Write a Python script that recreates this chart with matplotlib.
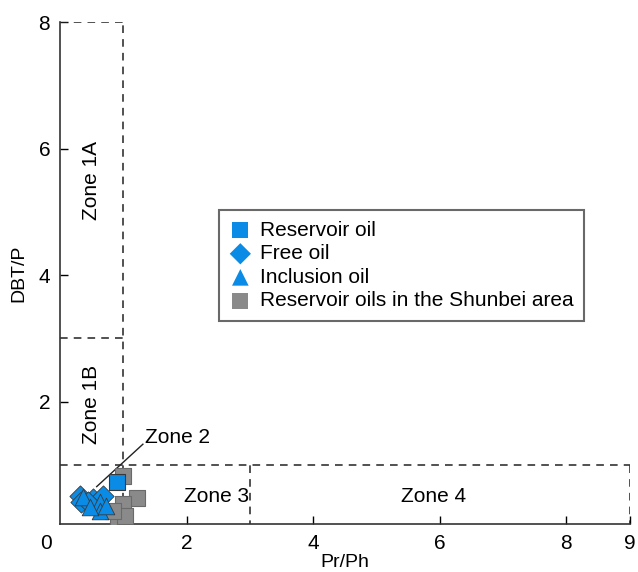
import numpy as np
import matplotlib.pyplot as plt

plt.rcParams['font.family'] = ['Liberation Sans', 'DejaVu Sans']

"""Dados lidos do gráfico"""
# Reservoir oil
res_x = [0.90]
res_y = [0.73]
# Free oil
free_x = [0.32, 0.34, 0.52, 0.68, 0.45]
free_y = [0.51, 0.41, 0.46, 0.51, 0.42]
# Inclusion oil
inc_x = [0.37, 0.63, 0.63, 0.47, 0.72]
inc_y = [0.49, 0.41, 0.27, 0.33, 0.36]
# Reservoir oils in the Shunbei area
shb_x = [1.00, 1.22, 1.00, 0.92, 1.03, 0.84]
shb_y = [0.82, 0.48, 0.38, 0.14, 0.19, 0.27]

xticks = [2, 4, 6, 8, 9]
yticks = [2, 4, 6, 8]

blue = '#0A8BE6'
gray = '#8A8A8A'
edge = '#3A3A3A'

fig = plt.figure(figsize=(6.38, 5.72), dpi=100)
ax = fig.add_axes([0.094, 0.084, 0.893, 0.8775])

'''Linhas das zonas'''
dash = dict(color='#222222', lw=1.1, ls=(0, (5, 4)))
ax.plot([1, 1], [0, 8], **dash)
ax.plot([0, 1], [8, 8], **dash)
ax.plot([0, 1], [3, 3], **dash)
ax.plot([0, 9], [1, 1], **dash)
ax.plot([3, 3], [0, 1], **dash)
ax.plot([9, 9], [0, 1], **dash)

'''Pontos'''
ms = 130
ax.scatter(shb_x, shb_y, marker='s', s=ms, c=gray, edgecolors='#6A6A6A', linewidths=0.8, zorder=3)
ax.scatter(free_x, free_y, marker='D', s=ms * 0.9, c=blue, edgecolors=edge, linewidths=0.6, zorder=4)
ax.scatter(inc_x, inc_y, marker='^', s=ms * 1.1, c=blue, edgecolors=edge, linewidths=0.6, zorder=5)
ax.scatter(res_x, res_y, marker='s', s=ms, c=blue, edgecolors=edge, linewidths=0.8, zorder=6)

'''Rótulos das zonas'''
fs = 15
ax.text(0.5, 5.5, 'Zone 1A', rotation=90, ha='center', va='center', fontsize=fs)
ax.text(0.5, 1.96, 'Zone 1B', rotation=90, ha='center', va='center', fontsize=fs)
ax.text(2.48, 0.5, 'Zone 3', ha='center', va='center', fontsize=fs)
ax.text(5.9, 0.5, 'Zone 4', ha='center', va='center', fontsize=fs)
ax.plot([0.58, 1.31], [0.66, 1.33], color='#222222', lw=1.0)
ax.text(1.34, 1.44, 'Zone 2', ha='left', va='center', fontsize=fs)

'''Eixos'''
ax.set_xlim(0, 9)
ax.set_ylim(0.07, 8)
ax.set_xticks(xticks)
ax.set_yticks(yticks)
ax.tick_params(direction='in', length=6, width=1, labelsize=fs, pad=7)
ax.spines['top'].set_visible(False)
ax.spines['right'].set_visible(False)
for s in ['left', 'bottom']:
    ax.spines[s].set_linewidth(1.2)
    ax.spines[s].set_color('#333333')
ax.text(-0.015, -0.02, '0', transform=ax.transAxes, ha='right', va='top', fontsize=fs)
ax.set_xlabel('Pr/Ph', fontsize=14, labelpad=1)
ax.set_ylabel('DBT/P', fontsize=14, labelpad=8)

'''Legenda'''
h = [
    ax.scatter([], [], marker='s', s=ms, c=blue, edgecolors='none'),
    ax.scatter([], [], marker='D', s=ms * 0.9, c=blue, edgecolors='none'),
    ax.scatter([], [], marker='^', s=ms * 1.1, c=blue, edgecolors='none'),
    ax.scatter([], [], marker='s', s=ms, c=gray, edgecolors='none'),
]
labels = ['Reservoir oil', 'Free oil', 'Inclusion oil', 'Reservoir oils in the Shunbei area']
leg = ax.legend(h, labels, loc='upper left', bbox_to_anchor=(0.28, 0.625), fontsize=fs,
                frameon=True, fancybox=False, handletextpad=0.45, labelspacing=0.22,
                borderpad=0.5, handlelength=1.0, borderaxespad=0)
leg.get_frame().set_edgecolor('#444444')
leg.get_frame().set_linewidth(1.5)

fig.savefig('out.png', dpi=100)
